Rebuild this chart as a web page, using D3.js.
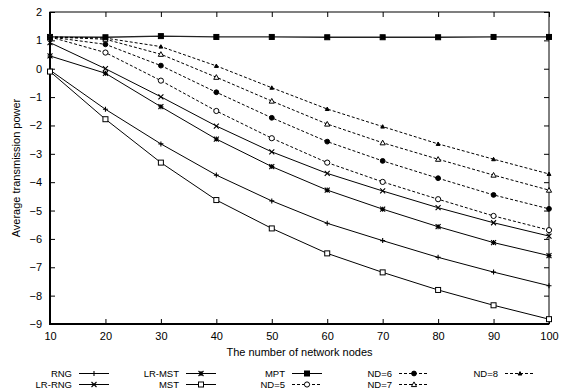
<!DOCTYPE html>
<html><head><meta charset="utf-8">
<script src="https://cdn.jsdelivr.net/npm/d3@7"></script>
<style>body{margin:0;background:#fff}svg{display:block}text{font-family:"Liberation Sans",Arial,sans-serif;fill:#000}</style>
</head><body><svg id="c" width="568" height="390"></svg>
<script>
const nodes = [10,20,30,40,50,60,70,80,90,100];
const xTicks = [10,20,30,40,50,60,70,80,90,100];
const yTicks = [-9,-8,-7,-6,-5,-4,-3,-2,-1,0,1,2];
const seriesNames = ["RNG","LR-RNG","LR-MST","MST","MPT","ND=5","ND=6","ND=7","ND=8"];
const rng    = [-0.05,-1.43,-2.65,-3.75,-4.66,-5.45,-6.06,-6.65,-7.17,-7.65];
const lrRng  = [0.92,0.0,-0.99,-2.02,-2.93,-3.69,-4.31,-4.90,-5.43,-5.90];
const lrMst  = [0.45,-0.16,-1.34,-2.48,-3.45,-4.28,-4.95,-5.57,-6.13,-6.59];
const mst    = [-0.1,-1.78,-3.31,-4.63,-5.63,-6.51,-7.18,-7.80,-8.34,-8.83];
const mpt    = [1.12,1.11,1.15,1.12,1.12,1.11,1.11,1.11,1.12,1.12];
const nd5    = [1.12,0.57,-0.42,-1.49,-2.45,-3.31,-3.99,-4.60,-5.19,-5.69];
const nd6    = [1.12,0.86,0.11,-0.83,-1.73,-2.57,-3.25,-3.86,-4.45,-4.94];
const nd7    = [1.12,1.04,0.51,-0.30,-1.14,-1.95,-2.61,-3.19,-3.75,-4.28];
const nd8    = [1.12,1.08,0.78,0.10,-0.67,-1.42,-2.04,-2.65,-3.19,-3.71];
const seriesValues = [rng,lrRng,lrMst,mst,mpt,nd5,nd6,nd7,nd8];
const markerTypes = ["plus","cross","star","square","fsquare","circle","fcircle","triangle","ftriangle"];
const dashed = [false,false,false,false,false,true,true,true,true];

const svg = d3.select("#c");
const L=50,R=549,T=12,B=324;
const x = d3.scaleLinear().domain([10,100]).range([L,R]);
const y = d3.scaleLinear().domain([-9,2]).range([B,T]);

function marker(g, type, cx, cy){
  const s=2.5;
  if(type==="plus"){
    g.append("path").attr("d",`M${cx-s},${cy}H${cx+s}M${cx},${cy-s}V${cy+s}`).attr("stroke","#000").attr("stroke-width",1.1);
  } else if(type==="cross"){
    g.append("path").attr("d",`M${cx-s},${cy-s}L${cx+s},${cy+s}M${cx-s},${cy+s}L${cx+s},${cy-s}`).attr("stroke","#000").attr("stroke-width",1.1);
  } else if(type==="star"){
    g.append("path").attr("d",`M${cx-s},${cy}H${cx+s}M${cx},${cy-s}V${cy+s}M${cx-s},${cy-s}L${cx+s},${cy+s}M${cx-s},${cy+s}L${cx+s},${cy-s}`).attr("stroke","#000").attr("stroke-width",1.1);
  } else if(type==="square"||type==="fsquare"){
    g.append("rect").attr("x",cx-s).attr("y",cy-s).attr("width",2*s).attr("height",2*s)
      .attr("fill",type==="fsquare"?"#000":"#fff").attr("stroke","#000").attr("stroke-width",1);
  } else if(type==="circle"||type==="fcircle"){
    g.append("circle").attr("cx",cx).attr("cy",cy).attr("r",type==="fcircle"?2.4:2.6)
      .attr("fill",type==="fcircle"?"#000":"#fff").attr("stroke","#000").attr("stroke-width",1);
  } else {
    const h=type==="ftriangle"?1.9:2.6;
    g.append("path").attr("d",`M${cx},${cy-h}L${cx+h},${cy+h*0.8}L${cx-h},${cy+h*0.8}Z`)
      .attr("fill",type==="ftriangle"?"#000":"#fff").attr("stroke","#000").attr("stroke-width",1);
  }
}

// frame + ticks
const ax = svg.append("g");
ax.append("rect").attr("x",L).attr("y",T).attr("width",R-L).attr("height",B-T).attr("fill","none").attr("stroke","#000").attr("stroke-width",1);
ax.append("line").attr("x1",L).attr("x2",L).attr("y1",T).attr("y2",B+1).attr("stroke","#000").attr("stroke-width",2);
ax.append("line").attr("x1",L-1).attr("x2",R).attr("y1",B).attr("y2",B).attr("stroke","#000").attr("stroke-width",2);

const xb = svg.append("g").attr("transform",`translate(0,${B})`).call(d3.axisBottom(x).tickValues(xTicks).tickSizeInner(-5).tickSizeOuter(0).tickPadding(8));
const xt = svg.append("g").attr("transform",`translate(0,${T})`).call(d3.axisTop(x).tickValues(xTicks).tickSizeInner(-5).tickSizeOuter(0).tickFormat(""));
const yl = svg.append("g").attr("transform",`translate(${L},0)`).call(d3.axisLeft(y).tickValues(yTicks).tickSizeInner(-5).tickSizeOuter(0).tickPadding(8));
const yr = svg.append("g").attr("transform",`translate(${R},0)`).call(d3.axisRight(y).tickValues(yTicks).tickSizeInner(-5).tickSizeOuter(0).tickFormat(""));
[xb,xt,yl,yr].forEach(g=>{g.select(".domain").remove();g.selectAll("line").attr("stroke","#000");g.selectAll("text").style("font-family","Liberation Sans, Arial, sans-serif").style("font-size","11px").attr("fill","#000");});

// series
const line = d3.line().x((d,i)=>x(nodes[i])).y(d=>y(d));
const plot = svg.append("g");
seriesValues.forEach((vals,k)=>{
  plot.append("path").attr("d",line(vals)).attr("fill","none").attr("stroke",k===4?"#222":"#000")
    .attr("stroke-width",k===4?1.3:1).attr("stroke-dasharray",dashed[k]?"3,2":null);
});
seriesValues.forEach((vals,k)=>{
  const g=plot.append("g");
  vals.forEach((v,i)=>marker(g,markerTypes[k],x(nodes[i]),y(v)));
});

// axis titles
svg.append("text").attr("x",(L+R)/2).attr("y",356).attr("text-anchor","middle").style("font-size","11px").text("The number of network nodes");
svg.append("text").attr("transform",`translate(20,${(T+B)/2}) rotate(-90)`).attr("text-anchor","middle").style("font-size","11px").text("Average transmission power");

// legend
const lg = svg.append("g");
const colEnd=[72,179,285,392,498], rowY=[373.5,384.5];
seriesNames.forEach((n,k)=>{
  const c=Math.floor(k/2), r=k%2;
  const xe=colEnd[c], yy=rowY[r];
  lg.append("text").attr("x",xe).attr("y",yy+3.5).attr("text-anchor","end").style("font-size","9.5px").text(n);
  lg.append("line").attr("x1",xe+7).attr("x2",xe+37).attr("y1",yy).attr("y2",yy).attr("stroke","#000")
    .attr("stroke-width",1).attr("stroke-dasharray",dashed[k]?"3,2":null);
  marker(lg,markerTypes[k],xe+22,yy);
});
</script></body></html>
